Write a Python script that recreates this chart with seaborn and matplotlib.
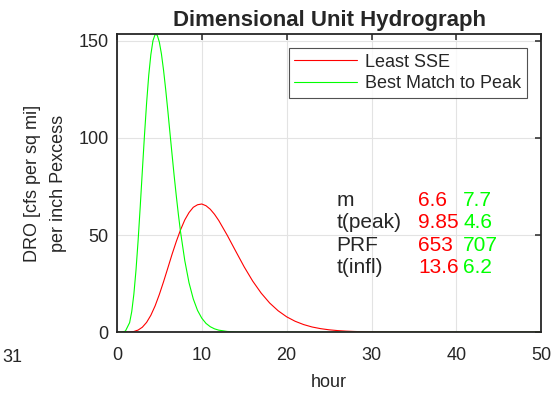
import numpy as np
import pandas as pd
import matplotlib
matplotlib.use("Agg")
import matplotlib.pyplot as plt
import seaborn as sns

# values
hours_sse = [0, 0.5, 1, 1.5, 2, 2.5, 3, 3.5, 4, 4.5, 5, 5.5, 6, 6.5, 7, 7.5, 8, 8.5, 9, 9.5,
             10, 10.5, 11, 11.5, 12, 13, 14, 15, 16, 17, 18, 19, 20, 21, 22, 23, 24, 25,
             26, 27, 28, 29, 30, 32, 35, 40, 50]
dro_sse = [0, 0, 0.01, 0.07, 0.34, 1.07, 2.54, 5.03, 8.68, 13.5, 19.4, 26.0, 33.0, 40.1, 46.7,
           52.7, 57.8, 61.6, 64.3, 65.6, 66.0, 65.1, 63.3, 60.7, 57.5, 49.9, 41.7, 33.6, 26.3,
           20.1, 15.0, 11.0, 7.9, 5.6, 3.9, 2.65, 1.8, 1.2, 0.8, 0.52, 0.34, 0.22, 0.14, 0.06,
           0.015, 0.001, 0]

hours_peak = [0, 0.5, 1, 1.5, 1.75, 2, 2.25, 2.5, 2.75, 3, 3.25, 3.5, 3.75, 4, 4.25, 4.5,
              4.75, 5, 5.25, 5.5, 5.75, 6, 6.25, 6.5, 6.75, 7, 7.25, 7.5, 8, 8.5, 9, 9.5, 10,
              10.5, 11, 11.5, 12, 13, 14, 15, 20, 50]
dro_peak = [0, 0.01, 0.5, 4.9, 10.6, 19.6, 31.9, 47.2, 64.7, 83.2, 101.4, 118.0, 132.2, 142.9,
            150.1, 153.3, 153.0, 149.4, 143.2, 134.8, 124.9, 114.1, 102.7, 91.5, 80.4, 70.1,
            60.4, 51.6, 36.8, 25.4, 17.1, 11.2, 7.2, 4.5, 2.8, 1.7, 1.03, 0.36, 0.12, 0.04, 0, 0]

row_labels = ["m", "t(peak)", "PRF", "t(infl)"]
sse_params = ["6.6", "9.85", "653", "13.6"]
peak_params = ["7.7", "4.6", "707", "6.2"]
row_y = [68.0, 56.7, 44.8, 33.5]

sns.set_style("white")
plt.rcParams["font.family"] = ["Liberation Sans", "DejaVu Sans"]

fig = plt.figure(figsize=(5.54, 3.94), dpi=100)
ax = fig.add_axes([0.211, 0.157, 0.766, 0.757])

sse = pd.DataFrame({"hour": hours_sse, "dro": dro_sse})
peak = pd.DataFrame({"hour": hours_peak, "dro": dro_peak})
sns.lineplot(data=sse, x="hour", y="dro", color="#ff0000", lw=0.8, label="Least SSE", ax=ax)
sns.lineplot(data=peak, x="hour", y="dro", color="#00ff00", lw=0.8, label="Best Match to Peak", ax=ax)

ax.set_xlim(0, 50)
ax.set_ylim(0, 153.6)
ax.set_xticks([0, 10, 20, 30, 40, 50])
ax.set_yticks([0, 50, 100, 150])
ax.grid(True, color="#e3e3e3", lw=0.8)
ax.set_axisbelow(True)
for s in ax.spines.values():
    s.set_color("#262626")
    s.set_linewidth(1.3)
ax.tick_params(direction="in", top=True, right=True, length=4, width=1.1,
               labelsize=13, colors="#262626")
ax.tick_params(axis="x", pad=11)
ax.tick_params(axis="y", pad=6)

ax.set_title("Dimensional Unit Hydrograph", fontsize=16, fontweight="bold", pad=6)
ax.set_xlabel("hour", fontsize=13, color="#262626", labelpad=7)
ax.set_ylabel("DRO [cfs per sq mi]\nper inch Pexcess", fontsize=13, color="#262626",
              labelpad=8, linespacing=1.7)

leg = ax.legend(loc="upper right", fontsize=13, frameon=True, fancybox=False,
                edgecolor="#262626", handlelength=3.5, borderaxespad=0.8,
                borderpad=0.3, labelspacing=0.25, handletextpad=0.45)
leg.get_frame().set_linewidth(0.8)

for lab, a, b, y in zip(row_labels, sse_params, peak_params, row_y):
    ax.text(25.9, y, lab, fontsize=15, va="center", ha="left")
    ax.text(35.5, y, a, fontsize=15, va="center", ha="left", color="#ff0000")
    ax.text(40.8, y, b, fontsize=15, va="center", ha="left", color="#00ff00")

fig.text(0.005, 0.092, "31", fontsize=13, va="center", ha="left", color="#262626")

fig.savefig("out.png", dpi=100)
